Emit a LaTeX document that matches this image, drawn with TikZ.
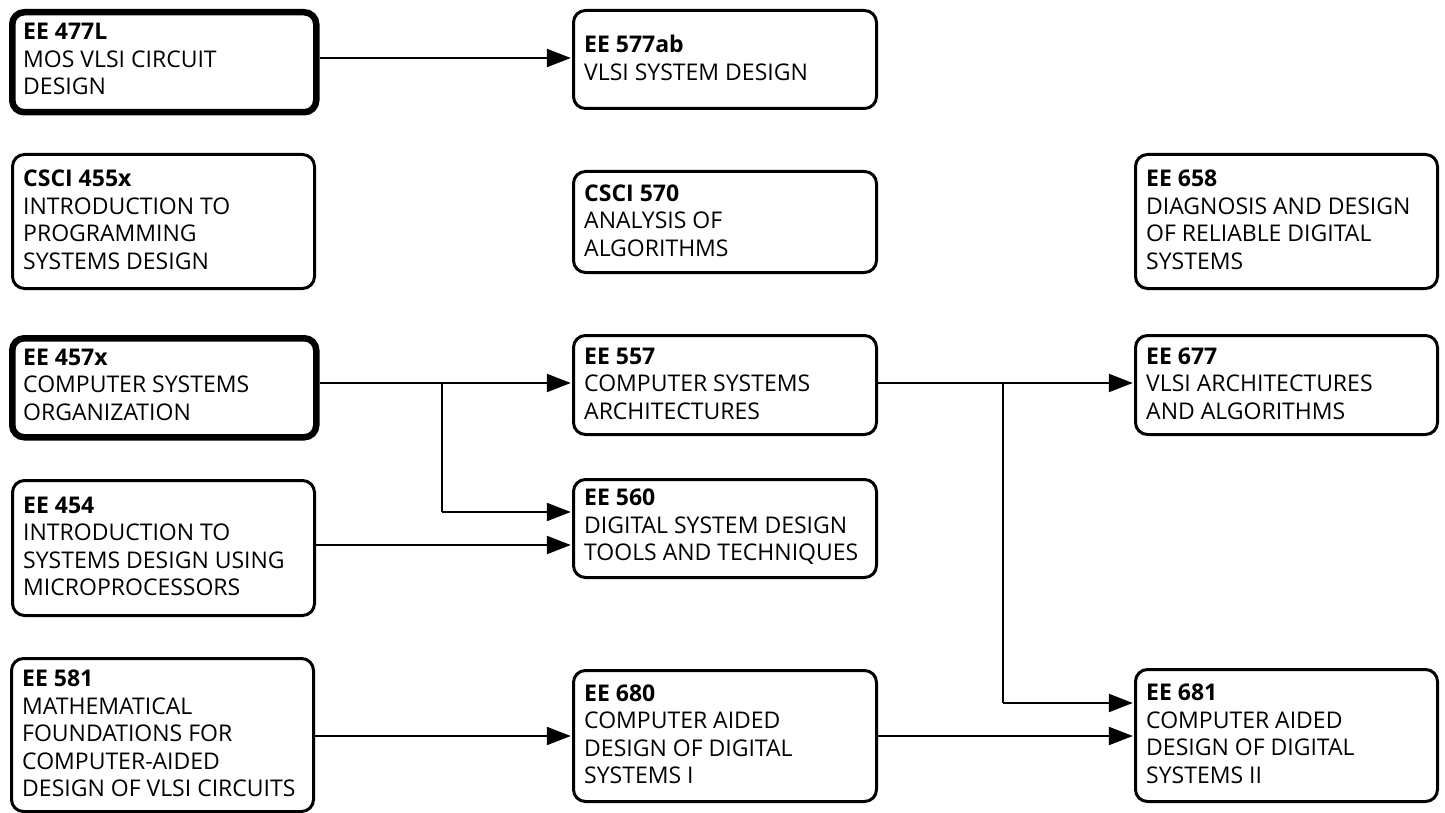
\documentclass[tikz,border=0pt]{standalone}
\usepackage{fontspec}
\setmainfont{Open Sans}
\usetikzlibrary{arrows.meta}
\begin{document}
\begin{tikzpicture}[x=1pt,y=-1pt,
  box/.style={draw=black,line width=3pt,rounded corners=12pt,fill=white,inner sep=0pt},
  thickbox/.style={box,line width=6.5pt},
  txt/.style={anchor=west,align=left,inner sep=0pt,font=\fontsize{23}{27.5}\selectfont},
  arr/.style={line width=2.2pt,shorten >=1.2pt,-{Triangle[length=24pt,width=18pt]}},
  ln/.style={line width=2.2pt}]
\useasboundingbox[fill=white] (0,0) rectangle (1445,813);
% boxes: style, left, top, right, bottom, name, text offset, text
\newcommand{\course}[8]{%
  \node[#1,minimum width=#4-#2,minimum height=#5-#3,anchor=north west] (#6) at (#2,#3) {};
  \node[txt] (#6t) at (#2+#7,{(#3+#5)/2}) {#8};}
\course{thickbox}{9}{9}{313}{109}{b477}{14}{\textbf{EE 477L}\\MOS VLSI CIRCUIT\\DESIGN}
\course{box}{572}{9}{875}{107}{b577}{12}{\textbf{EE 577ab}\\VLSI SYSTEM DESIGN}
\course{box}{11}{153}{313}{287}{b455}{12}{\textbf{CSCI 455x}\\INTRODUCTION TO\\PROGRAMMING\\SYSTEMS DESIGN}
\course{box}{572}{170}{875}{271}{b570}{12}{\textbf{CSCI 570}\\ANALYSIS OF\\ALGORITHMS}
\course{box}{1134}{153}{1436}{287}{b658}{12}{\textbf{EE 658}\\DIAGNOSIS AND DESIGN\\OF RELIABLE DIGITAL\\SYSTEMS}
\course{thickbox}{9}{335}{313}{434}{b457}{14}{\textbf{EE 457x}\\COMPUTER SYSTEMS\\ORGANIZATION}
\course{box}{572}{334}{875}{433}{b557}{12}{\textbf{EE 557}\\COMPUTER SYSTEMS\\ARCHITECTURES}
\course{box}{1134}{334}{1436}{433}{b677}{12}{\textbf{EE 677}\\VLSI ARCHITECTURES\\AND ALGORITHMS}
\course{box}{11}{479}{313}{614}{b454}{12}{\textbf{EE 454}\\INTRODUCTION TO\\SYSTEMS DESIGN USING\\MICROPROCESSORS}
\course{box}{572}{478}{875}{576}{b560}{12}{\textbf{EE 560}\\DIGITAL SYSTEM DESIGN\\TOOLS AND TECHNIQUES}
\course{box}{10}{657}{312}{810}{b581}{12}{\textbf{EE 581}\\MATHEMATICAL\\FOUNDATIONS FOR\\COMPUTER-AIDED\\DESIGN OF VLSI CIRCUITS}
\course{box}{572}{669}{875}{800}{b680}{12}{\textbf{EE 680}\\COMPUTER AIDED\\DESIGN OF DIGITAL\\SYSTEMS I}
\course{box}{1134}{668}{1436}{800}{b681}{12}{\textbf{EE 681}\\COMPUTER AIDED\\DESIGN OF DIGITAL\\SYSTEMS II}
% junction coordinates
\coordinate (r58) at (0,58);
\coordinate (s1) at (442,383);
\coordinate (s1b) at (442,512);
\coordinate (r545) at (0,545);
\coordinate (s3) at (1003,383);
\coordinate (s3b) at (1003,703);
\coordinate (r736) at (0,736);
% connectors
\draw[arr] (b477.east|-r58) -- (b577.west|-r58);
\draw[arr] (b457.east|-s1) -- (b557.west|-s1);
\draw[ln] (s1) -- (s1b);
\draw[arr] (s1b) -- (b560.west|-s1b);
\draw[arr] (b454.east|-r545) -- (b560.west|-r545);
\draw[arr] (b557.east|-s3) -- (b677.west|-s3);
\draw[ln] (s3) -- (s3b);
\draw[arr] (s3b) -- (b681.west|-s3b);
\draw[arr] (b581.east|-r736) -- (b680.west|-r736);
\draw[arr] (b680.east|-r736) -- (b681.west|-r736);
\end{tikzpicture}
\end{document}
